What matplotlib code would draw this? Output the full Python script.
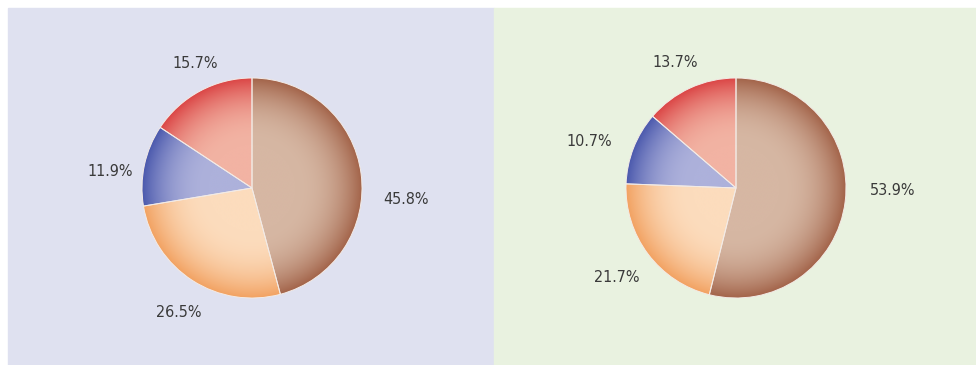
import numpy as np
import matplotlib.pyplot as plt
from matplotlib.colors import to_rgb
from matplotlib.patches import Rectangle

# data
left_values = [45.8, 26.5, 11.9, 15.7]
right_values = [53.9, 21.7, 10.7, 13.7]
left_labels = ['45.8%', '26.5%', '11.9%', '15.7%']
right_labels = ['53.9%', '21.7%', '10.7%', '13.7%']

# label spots, in pie radius units
left_pos = [(1.40, -0.10), (-0.67, -1.13), (-1.29, 0.15), (-0.52, 1.13)]
right_pos = [(1.42, -0.02), (-1.08, -0.81), (-1.33, 0.42), (-0.55, 1.14)]

light = ['#d6b7a3', '#fcdcbd', '#adb1db', '#f2b3a3']
dark = ['#a3644a', '#f2a262', '#4b59ad', '#db4646']

W, H = 976, 365
fig = plt.figure(figsize=(W / 100, H / 100), dpi=100)
fig.patch.set_facecolor('white')

# panel backgrounds
fig.add_artist(Rectangle((8 / W, 0), (494 - 8) / W, (H - 8) / H,
                         transform=fig.transFigure, color='#dfe1f0', zorder=0))
fig.add_artist(Rectangle((494 / W, 0), (W - 494) / W, (H - 8) / H,
                         transform=fig.transFigure, color='#e9f2e0', zorder=0))

# radial gradient grid
n = 400
xx, yy = np.meshgrid(np.linspace(-1, 1, n), np.linspace(-1, 1, n))
rr = np.sqrt(xx ** 2 + yy ** 2)
t = np.clip((rr - 0.4) / 0.6, 0, 1) ** 2.2


def draw_pie(cx, values, labels, pos):
    half = 176  # 1.6 radius units, radius = 110 px
    ax = fig.add_axes([(cx - half) / W, (H - 188 - half) / H, 2 * half / W, 2 * half / H])
    wedges, _ = ax.pie(values, startangle=90, counterclock=False, radius=1,
                       wedgeprops=dict(facecolor='none', edgecolor='#f3ebe6', linewidth=0.7))
    for i, w in enumerate(wedges):
        c0 = np.array(to_rgb(light[i]))
        c1 = np.array(to_rgb(dark[i]))
        img = c0[None, None, :] * (1 - t[..., None]) + c1[None, None, :] * t[..., None]
        im = ax.imshow(img, extent=[-1, 1, -1, 1], origin='lower', zorder=1, interpolation='bilinear')
        im.set_clip_path(w)
        w.set_zorder(2)
    for lab, (px, py) in zip(labels, pos):
        ax.text(px, py, lab, ha='center', va='center', fontsize=11.5, color='#3a3a3a',
                family=['Liberation Sans Narrow', 'DejaVu Sans'], fontstretch='condensed')
    ax.set_xlim(-1.6, 1.6)
    ax.set_ylim(-1.6, 1.6)
    ax.set_aspect('equal')
    ax.axis('off')
    return ax


draw_pie(252, left_values, left_labels, left_pos)
draw_pie(736, right_values, right_labels, right_pos)

fig.savefig('out.png', dpi=100, facecolor=fig.get_facecolor())
